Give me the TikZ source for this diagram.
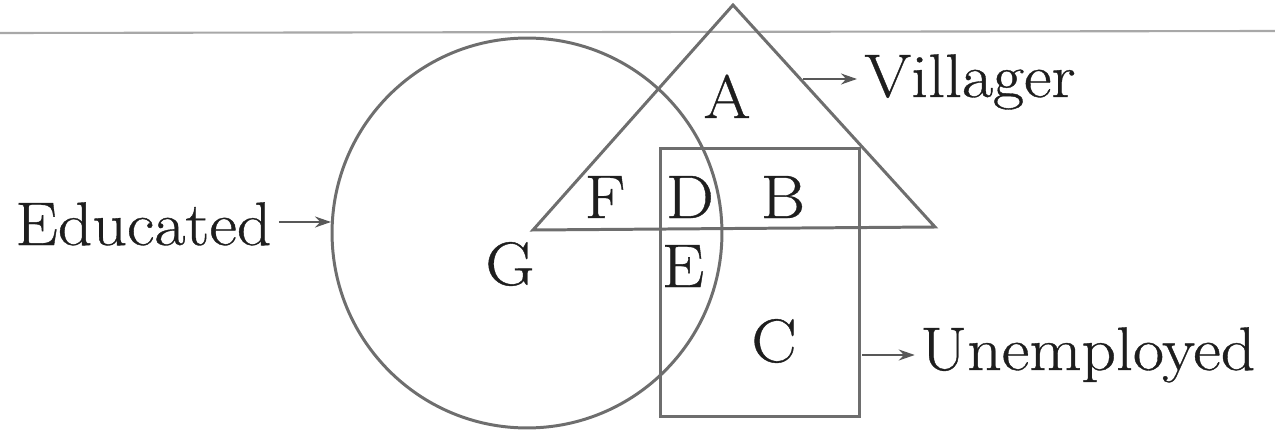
\documentclass[tikz,border=0pt]{standalone}
\usepackage{fontspec}
\setmainfont{Latin Modern Roman}[FakeStretch=1.1, FakeBold=0.6]
\usetikzlibrary{arrows.meta}
\definecolor{shapegray}{HTML}{6E6E6E}
\definecolor{inkcol}{HTML}{1E1E1E}
\definecolor{rulegray}{HTML}{A8A8A8}
\begin{document}
\begin{tikzpicture}[x=0.02cm,y=-0.02cm,
  shapeline/.style={draw=shapegray, line width=1.7pt},
  letter/.style={anchor=base, inner sep=0pt, text=inkcol, font=\fontsize{35}{42}\selectfont},
  setlabel/.style={anchor=base west, inner sep=0pt, text=inkcol, font=\fontsize{35}{42}\selectfont},
  arr/.style={draw=shapegray!80!black, line width=1.1pt, -{Stealth[length=0.32cm,width=0.22cm]}}]
\useasboundingbox (0,0) rectangle (1275,439);
% faint rule across the top
\coordinate (ruleL) at (0,33);
\coordinate (ruleR) at (1275,31);
\draw[rulegray, line width=1.2pt] (ruleL) -- (ruleR);
% Educated circle
\node[shapeline, circle, inner sep=0pt, minimum size=7.8cm] (circ) at (527,233) {};
% Unemployed rectangle
\node[shapeline, rectangle, inner sep=0pt, minimum width=4cm, minimum height=5.38cm] (rect) at (760,282.5) {};
% Villager triangle
\coordinate (tapex) at (733,5);
\coordinate (tright) at (935,227);
\coordinate (tleft) at (533,230);
\draw[shapeline, line join=miter] (tapex) -- (tright) -- (tleft) -- cycle;
% region letters
\node[letter] (lA) at (727,118) {A};
\node[letter] (lF) at (605,218) {F};
\node[letter] (lD) at (690,218) {D};
\node[letter] (lB) at (783,218) {B};
\node[letter] (lG) at (510,285) {G};
\node[letter] (lE) at (683,287) {E};
\node[letter] (lC) at (774,362) {C};
% set labels
\node[setlabel] (vill) at (864,97) {Villager};
\node[setlabel] (educ) at (15,245) {Educated};
\node[setlabel] (unem) at (920,370) {Unemployed};
% arrows
\coordinate (va) at (803,79);
\draw[arr] (va) -- ([xshift=-4pt]va -| vill.west);
\coordinate (ea) at (331,222);
\draw[arr] ([xshift=4pt]educ.east |- ea) -- (ea);
\coordinate (ua) at (862,355);
\draw[arr] (ua) -- ([xshift=-3pt]ua -| unem.west);
\end{tikzpicture}
\end{document}
